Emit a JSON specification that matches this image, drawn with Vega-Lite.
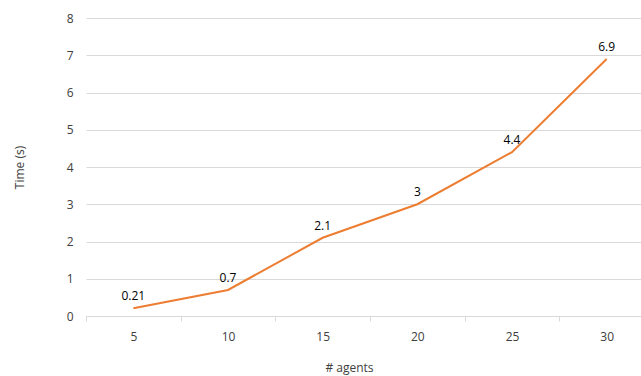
{
  "$schema": "https://vega.github.io/schema/vega-lite/v6.json",
  "width": 555,
  "height": 298,
  "autosize": {"type": "none"},
  "padding": {"left": 86, "top": 18, "right": 0, "bottom": 60},
  "background": "white",
  "config": {
    "view": {"stroke": null},
    "font": "Open Sans"
  },
  "data": {
    "values": [
      {"agents": "5", "time": 0.21, "label": "0.21"},
      {"agents": "10", "time": 0.7, "label": "0.7"},
      {"agents": "15", "time": 2.1, "label": "2.1"},
      {"agents": "20", "time": 3, "label": "3"},
      {"agents": "25", "time": 4.4, "label": "4.4"},
      {"agents": "30", "time": 6.9, "label": "6.9"}
    ]
  },
  "encoding": {
    "x": {
      "field": "agents",
      "type": "ordinal",
      "sort": null,
      "bandPosition": 0.5,
      "scale": {"type": "band", "paddingInner": 0, "paddingOuter": 0, "range": [0, 568]},
      "axis": {
        "title": "# agents",
        "labelAngle": 0,
        "tickBand": "extent",
        "tickColor": "#d9d9d9",
        "tickSize": 5,
        "domainColor": "#d9d9d9",
        "labelColor": "#404040",
        "labelFontSize": 12,
        "labelPadding": 10,
        "titleColor": "#404040",
        "titleFontSize": 12,
        "titleFontWeight": "normal",
        "titlePadding": 20,
        "titleX": 263
      }
    },
    "y": {
      "field": "time",
      "type": "quantitative",
      "scale": {"domain": [0, 8]},
      "axis": {
        "title": "Time (s)",
        "values": [0, 1, 2, 3, 4, 5, 6, 7, 8],
        "ticks": false,
        "domain": false,
        "gridColor": "#d9d9d9",
        "labelColor": "#404040",
        "labelFontSize": 12,
        "labelPadding": 13,
        "titleColor": "#404040",
        "titleFontSize": 12,
        "titleFontWeight": "normal",
        "titlePadding": 40
      }
    }
  },
  "layer": [
    {"mark": {"type": "line", "color": "#ED7D31", "strokeWidth": 2}},
    {
      "mark": {"type": "text", "dy": -12, "fontSize": 12, "color": "#000000", "font": "Open Sans"},
      "encoding": {"text": {"field": "label"}}
    }
  ]
}
